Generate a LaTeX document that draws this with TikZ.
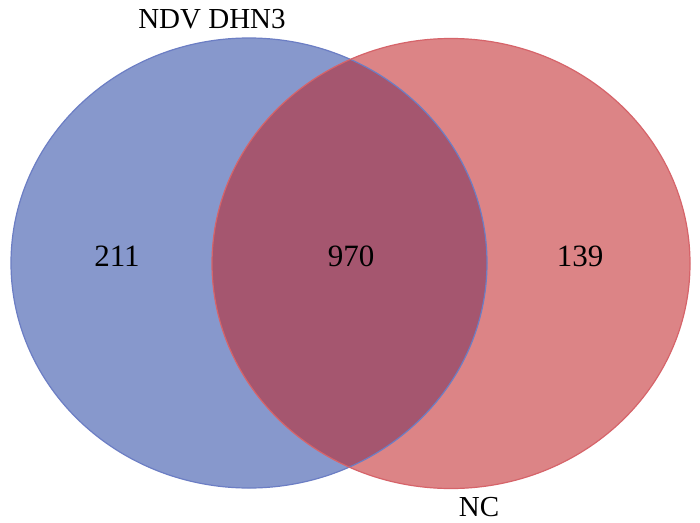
\documentclass[tikz,border=0pt]{standalone}
\usepackage{fontspec}
\setmainfont{Liberation Serif}
\definecolor{bluefill}{RGB}{135,152,204}
\definecolor{blueedge}{RGB}{108,126,196}
\definecolor{redfill}{RGB}{220,132,134}
\definecolor{rededge}{RGB}{214,100,106}
\definecolor{overfill}{RGB}{165,86,111}
\begin{document}
\begin{tikzpicture}[x=1pt,y=-1pt,
  lbl/.style={font=\fontsize{29}{34}\selectfont, inner sep=0pt},
  num/.style={font=\fontsize{31}{36}\selectfont, inner sep=0pt}]
\useasboundingbox (0,0) rectangle (700,522);
\fill[white] (0,0) rectangle (700,522);
% sets
\fill[bluefill] (249,263) ellipse [x radius=238, y radius=225];
\fill[redfill] (451,263.5) ellipse [x radius=239, y radius=225];
\begin{scope}
  \clip (451,263.5) ellipse [x radius=239, y radius=225];
  \fill[overfill] (249,263) ellipse [x radius=238, y radius=225];
\end{scope}
\draw[blueedge, line width=1.2pt] (249,263) ellipse [x radius=238, y radius=225];
\draw[rededge, line width=1.2pt] (451,263.5) ellipse [x radius=239, y radius=225];
% labels
\node[lbl] (setA) at (212,19.5) {NDV DHN3};
\node[lbl, anchor=base] (setB) at (479,516.5) {NC};
\node[num] (onlyA) at (117,256) {211};
\node[num] (both) at (351,256) {970};
\node[num] (onlyB) at (580,256) {139};
\end{tikzpicture}
\end{document}
